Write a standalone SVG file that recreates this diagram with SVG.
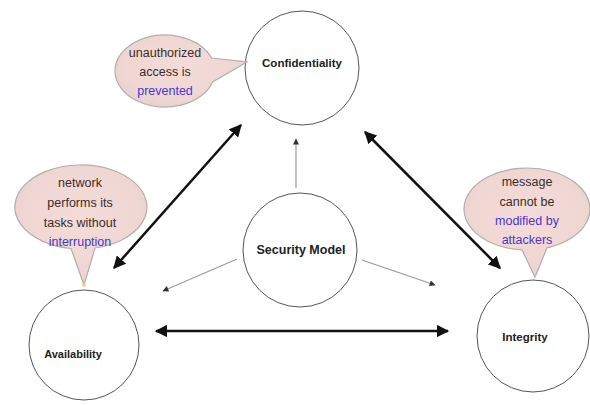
<svg xmlns="http://www.w3.org/2000/svg" width="590" height="405" viewBox="0 0 590 405">
<style>
.node{fill:#fff;stroke:#555;stroke-width:1}
.bub{fill:url(#bg);stroke:#b2aeae;stroke-width:1.2}
.lbl{font-family:"Liberation Sans",Arial,sans-serif;font-weight:bold;fill:#222;text-anchor:middle}
.bt{font-family:"Liberation Sans",Arial,sans-serif;font-size:12.5px;fill:#3a2c2c;text-anchor:middle}
.blue{fill:#4a36d0}
.thick{stroke:#111;stroke-width:2.5;fill:none}
.thin{stroke:#9a9a9a;stroke-width:1.2;fill:none}
</style>
<defs>
<radialGradient id="bg" cx="0.5" cy="0.45" r="0.6">
<stop offset="0" stop-color="#f4dcd8"/>
<stop offset="0.75" stop-color="#efd6d2"/>
<stop offset="1" stop-color="#e2d2d0"/>
</radialGradient>
<marker id="bh" viewBox="0 0 10 10" refX="9" refY="5" markerWidth="5" markerHeight="5" orient="auto-start-reverse" markerUnits="strokeWidth">
<path d="M0,0 L10,5 L0,10 Z" fill="#111"/>
</marker>
<marker id="gh" viewBox="0 0 10 10" refX="9" refY="5" markerWidth="6" markerHeight="5" orient="auto" markerUnits="strokeWidth">
<path d="M0,0 L10,5 L0,10 Z" fill="#333"/>
</marker>
</defs>
<rect width="590" height="405" fill="#fff"/>
<g id="connectors">
<line class="thick" x1="241" y1="125" x2="114" y2="268" marker-start="url(#bh)" marker-end="url(#bh)"/>
<line class="thick" x1="365" y1="132" x2="500" y2="268" marker-start="url(#bh)" marker-end="url(#bh)"/>
<line class="thick" x1="156" y1="331" x2="448" y2="331" marker-start="url(#bh)" marker-end="url(#bh)"/>
<line class="thin" x1="296" y1="188" x2="296" y2="139" marker-end="url(#gh)"/>
<line class="thin" x1="237" y1="259" x2="163" y2="291" marker-end="url(#gh)"/>
<line class="thin" x1="362" y1="260" x2="435" y2="285" marker-end="url(#gh)"/>
</g>
<g id="confidentiality">
<circle class="node" cx="302" cy="68" r="57"/>
<text class="lbl" x="302" y="67" font-size="11.5">Confidentiality</text>
</g>
<g id="security-model">
<circle class="node" cx="300" cy="250" r="57"/>
<text class="lbl" x="301" y="254" font-size="12.5">Security Model</text>
</g>
<g id="availability">
<circle class="node" cx="84" cy="345" r="55"/>
<text class="lbl" x="73" y="358" font-size="11">Availability</text>
</g>
<g id="integrity">
<circle class="node" cx="533" cy="336" r="56"/>
<text class="lbl" x="525" y="341" font-size="11.5">Integrity</text>
</g>
<g id="bubble-confidentiality">
<path class="bub" d="M211.6,58 L247,62 L212.6,82 A50,36 0 1 1 211.6,58 Z"/>
<text class="bt" x="165" y="57">unauthorized</text>
<text class="bt" x="165" y="76">access is</text>
<text class="bt blue" x="165" y="95">prevented</text>
</g>
<g id="bubble-availability">
<path class="bub" d="M95,248 L84,285 L71,248.5 A66,42 0 1 1 95,248 Z"/>
<circle cx="84" cy="285" r="1.8" fill="#e8d36a"/>
<text class="bt" x="80" y="187">network</text>
<text class="bt" x="80" y="207">performs its</text>
<text class="bt" x="80" y="227">tasks without</text>
<text class="bt blue" x="80" y="246">interruption</text>
</g>
<g id="bubble-integrity">
<path class="bub" d="M547,247.9 L535,277 L522,249.9 A63,41 0 1 1 547,247.9 Z"/>
<text class="bt" x="527" y="186">message</text>
<text class="bt" x="527" y="206">cannot be</text>
<text class="bt blue" x="527" y="225">modified by</text>
<text class="bt blue" x="527" y="244">attackers</text>
</g>
</svg>
